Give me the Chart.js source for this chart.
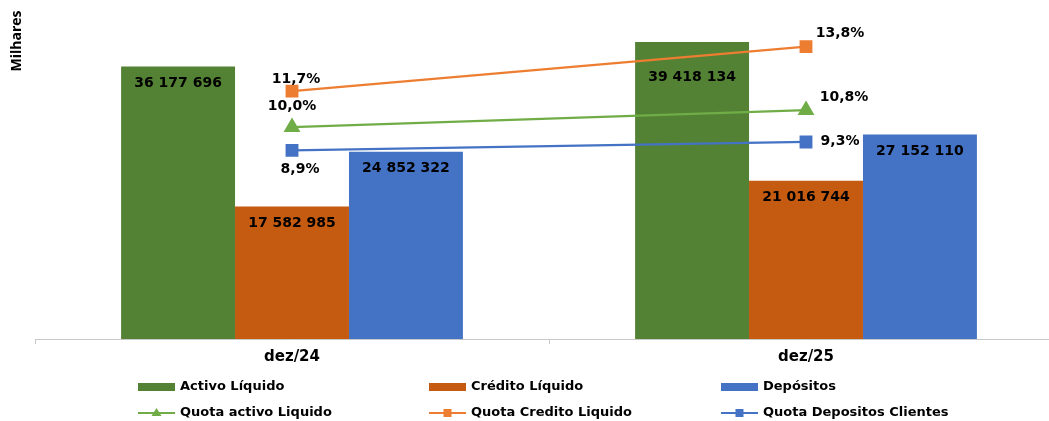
<!DOCTYPE html>
<html>
<head>
<meta charset="utf-8">
<script src="https://cdn.jsdelivr.net/npm/chart.js@4/dist/chart.umd.min.js"></script>
<style>
  html, body { margin: 0; padding: 0; background: #fff; overflow: hidden; }
  #wrap { position: absolute; left: 0; top: 0; width: 1064px; height: 421px; }
</style>
</head>
<body>
<div id="wrap"><canvas id="chart" width="1064" height="421"></canvas></div>
<script>
const categories = ['dez/24', 'dez/25'];

// amounts in thousands
const activoLiquido = [36177696, 39418134];
const creditoLiquido = [17582985, 21016744];
const depositos = [24852322, 27152110];

// market shares, %
const quotaActivo = [10.0, 10.8];
const quotaCredito = [11.7, 13.8];
const quotaDepositos = [8.9, 9.3];

function fmtThousands(v) {
  return String(v).replace(/\B(?=(\d{3})+(?!\d))/g, ' ');
}
function fmtPct(v) {
  return v.toFixed(1).replace('.', ',') + '%';
}

// value labels on bars and line points
const valueLabels = {
  id: 'valueLabels',
  afterDatasetsDraw(chart) {
    const ctx = chart.ctx;
    ctx.save();
    ctx.font = 'bold 14px "DejaVu Sans"';
    ctx.fillStyle = '#000';
    ctx.textAlign = 'center';
    ctx.textBaseline = 'middle';
    chart.data.datasets.forEach((ds, i) => {
      const meta = chart.getDatasetMeta(i);
      meta.data.forEach((el, j) => {
        const off = ds.labelOffsets[j];
        const text = ds.type === 'bar' ? fmtThousands(ds.data[j]) : fmtPct(ds.data[j]);
        ctx.fillText(text, el.x + off[0], el.y + off[1]);
      });
    });
    ctx.restore();
  }
};

// two-row legend laid out in fixed columns, plus the units note
const gridLegend = {
  id: 'gridLegend',
  afterDraw(chart) {
    const ctx = chart.ctx;
    const cols = [138, 429, 721];
    const rows = [387, 413];
    const count = { bar: 0, line: 0 };
    ctx.save();
    chart.data.datasets.forEach(ds => {
      const row = ds.type === 'bar' ? 0 : 1;
      const x = cols[count[ds.type]++];
      const y = rows[row];
      if (ds.type === 'bar') {
        ctx.fillStyle = ds.backgroundColor;
        ctx.fillRect(x, y - 4, 37, 8);
      } else {
        ctx.strokeStyle = ds.borderColor;
        ctx.lineWidth = 2;
        ctx.beginPath();
        ctx.moveTo(x, y);
        ctx.lineTo(x + 37, y);
        ctx.stroke();
        ctx.fillStyle = ds.borderColor;
        const cx = x + 18.5;
        if (ds.pointStyle === 'triangle') {
          ctx.beginPath();
          ctx.moveTo(cx, y - 5);
          ctx.lineTo(cx + 5, y + 3);
          ctx.lineTo(cx - 5, y + 3);
          ctx.closePath();
          ctx.fill();
        } else {
          ctx.fillRect(cx - 4, y - 4, 8, 8);
        }
      }
      ctx.fillStyle = '#000';
      ctx.font = 'bold 13px "DejaVu Sans"';
      ctx.textAlign = 'left';
      ctx.textBaseline = 'middle';
      ctx.fillText(ds.label, x + 42, y);
    });

    ctx.translate(17, 41);
    ctx.rotate(-Math.PI / 2);
    ctx.font = 'bold 14px "Open Sans"';
    ctx.textAlign = 'center';
    ctx.textBaseline = 'middle';
    ctx.fillText('Milhares', 0, 0);
    ctx.restore();
  }
};

new Chart(document.getElementById('chart'), {
  data: {
    labels: categories,
    datasets: [
      {
        type: 'bar', label: 'Activo Líquido', data: activoLiquido,
        backgroundColor: '#548235', yAxisID: 'y', order: 2,
        labelOffsets: [[0, 17], [0, 35]]
      },
      {
        type: 'bar', label: 'Crédito Líquido', data: creditoLiquido,
        backgroundColor: '#C55A11', yAxisID: 'y', order: 2,
        labelOffsets: [[0, 17], [0, 17]]
      },
      {
        type: 'bar', label: 'Depósitos', data: depositos,
        backgroundColor: '#4472C4', yAxisID: 'y', order: 2,
        labelOffsets: [[0, 17], [0, 17]]
      },
      {
        type: 'line', label: 'Quota activo Liquido', data: quotaActivo,
        borderColor: '#70AD47', backgroundColor: '#70AD47', borderWidth: 2.25,
        pointStyle: 'triangle', pointRadius: 7.5, yAxisID: 'y1', order: 1,
        labelOffsets: [[0, -21], [38, -13]]
      },
      {
        type: 'line', label: 'Quota Credito Liquido', data: quotaCredito,
        borderColor: '#ED7D31', backgroundColor: '#ED7D31', borderWidth: 2.25,
        pointStyle: 'rect', pointRadius: 7.5, yAxisID: 'y1', order: 1,
        labelOffsets: [[4, -12], [34, -13]]
      },
      {
        type: 'line', label: 'Quota Depositos Clientes', data: quotaDepositos,
        borderColor: '#4472C4', backgroundColor: '#4472C4', borderWidth: 2.25,
        pointStyle: 'rect', pointRadius: 7.5, yAxisID: 'y1', order: 1,
        labelOffsets: [[8, 19], [34, -1]]
      }
    ]
  },
  options: {
    responsive: false,
    animation: false,
    events: [],
    layout: { autoPadding: false, padding: { left: 35, right: 1, top: 0, bottom: 54 } },
    datasets: {
      bar: { categoryPercentage: 0.665, barPercentage: 1 }
    },
    scales: {
      x: {
        afterFit(scale) { scale.height = 28; },
        border: { color: '#c8c8c8', width: 1 },
        grid: { display: true, drawOnChartArea: false, offset: true, color: '#c8c8c8', tickLength: 5 },
        ticks: { color: '#000', padding: 4, font: { family: 'DejaVu Sans', size: 15, weight: 'bold' } }
      },
      y: { display: false, min: 0, max: 45000000 },
      y1: { display: false, min: 0, max: 16 }
    },
    plugins: {
      legend: { display: false },
      tooltip: { enabled: false }
    }
  },
  plugins: [valueLabels, gridLegend]
});
</script>
</body>
</html>
